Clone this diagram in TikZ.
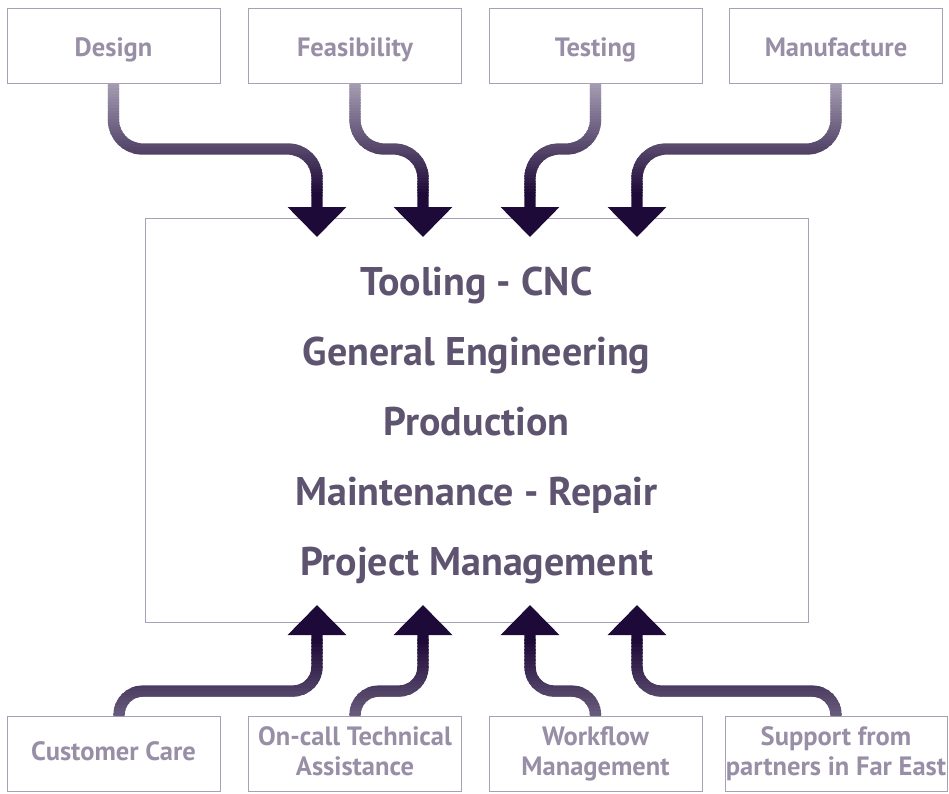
\documentclass[tikz,border=0pt]{standalone}
\usepackage{fontspec}
\setmainfont{PT Sans}
\usetikzlibrary{arrows.meta,calc}
\definecolor{lightp}{RGB}{165,157,179}
\definecolor{darkp}{RGB}{30,10,56}
\definecolor{boxline}{RGB}{168,160,182}
\definecolor{labeltxt}{RGB}{152,143,166}
\definecolor{maintxt}{RGB}{94,84,112}
\tikzset{
  sidebox/.style={draw=boxline, line width=1pt, minimum width=213pt, minimum height=75pt,
    inner sep=0pt, text=labeltxt, align=center,
    font=\bfseries\fontsize{26.5}{30}\selectfont},
  topbox/.style={sidebox, text height=22.4pt, text depth=0pt},
  mainbox/.style={draw=boxline, line width=1pt, minimum width=663pt, minimum height=404pt,
    inner sep=0pt},
  maintext/.style={inner sep=0pt, text=maintxt, align=center,
    font=\bfseries\fontsize{40}{70}\selectfont},
  pipe/.style={line width=11.3pt, -{Triangle[width=57pt,length=30pt]}},
}
% #1 path, #2 y where light, #3 y where dark, #4 y beyond tip
\newcommand\gradpipe[4]{%
  \foreach \k in {0,...,39}{%
    \pgfmathsetmacro\ya{#2+(#3-#2)*\k/40}%
    \pgfmathsetmacro\yb{#2+(#3-#2)*(\k+1)/40+0.6*sign(#3-#2)}%
    \pgfmathsetmacro\pct{100*\k/39}%
    \begin{scope}
      \clip (-10,\ya) rectangle (960,\yb);
      \draw[pipe, color=darkp!\pct!lightp] #1;
    \end{scope}}%
  \begin{scope}
    \clip (-10,#3) rectangle (960,#4);
    \draw[pipe, color=darkp] #1;
  \end{scope}}
\begin{document}
\begin{tikzpicture}[x=1pt,y=-1pt]
\useasboundingbox (0,0) rectangle (949,793);
% boxes
\node[topbox] (d) at (113.5,45.5) {Design};
\node[topbox] (f) at (355,45.5) {Feasibility};
\node[topbox] (t) at (595.5,45.5) {Testing};
\node[topbox] (m) at (836,45.5) {Manufacture};
\node[mainbox] (main) at (476.5,420) {};
\node[maintext] (svc) at (476.5,425) {Tooling - CNC\\General Engineering\\Production\\Maintenance - Repair\\Project Management};
\node[sidebox, text height=12pt, text depth=0pt] (cc) at (113.5,754) {Customer Care};
\node[sidebox] (oc) at (355,754) {On-call Technical\\Assistance\vphantom{g}};
\node[sidebox] (wf) at (595.5,754) {Workflow\\Management};
\node[sidebox, minimum width=222pt] (sp) at (836,754) {Support from\\partners in Far East};
% tips
\coordinate (t1) at (317,237);
\coordinate (t2) at (423,237);
\coordinate (t3) at (530,237);
\coordinate (t4) at (637,237);
\coordinate (b1) at (317,605);
\coordinate (b2) at (423,605);
\coordinate (b3) at (530,605);
\coordinate (b4) at (637,605);
% top pipes
\gradpipe{[rounded corners=29pt] (d.south) -- (113.5,149) -- (317,149) -- (t1)}{83}{195}{245}
\gradpipe{[rounded corners=29pt] (f.south) -- (355,149) -- (423,149) -- (t2)}{83}{195}{245}
\gradpipe{[rounded corners=29pt] (t.south) -- (595.5,149) -- (530,149) -- (t3)}{83}{195}{245}
\gradpipe{[rounded corners=29pt] (m.south) -- (836,149) -- (637,149) -- (t4)}{83}{195}{245}
% bottom pipes
\gradpipe{[rounded corners=24pt] ($(cc.north)+(5.5,0)$) -- (119,691) -- (317,691) -- (b1)}{775}{640}{595}
\gradpipe{[rounded corners=24pt] (oc.north) -- (355,691) -- (423,691) -- (b2)}{775}{640}{595}
\gradpipe{[rounded corners=24pt] (wf.north) -- (595.5,691) -- (530,691) -- (b3)}{775}{640}{595}
\gradpipe{[rounded corners=24pt] (sp.north) -- (836,691) -- (637,691) -- (b4)}{775}{640}{595}
\end{tikzpicture}
\end{document}
